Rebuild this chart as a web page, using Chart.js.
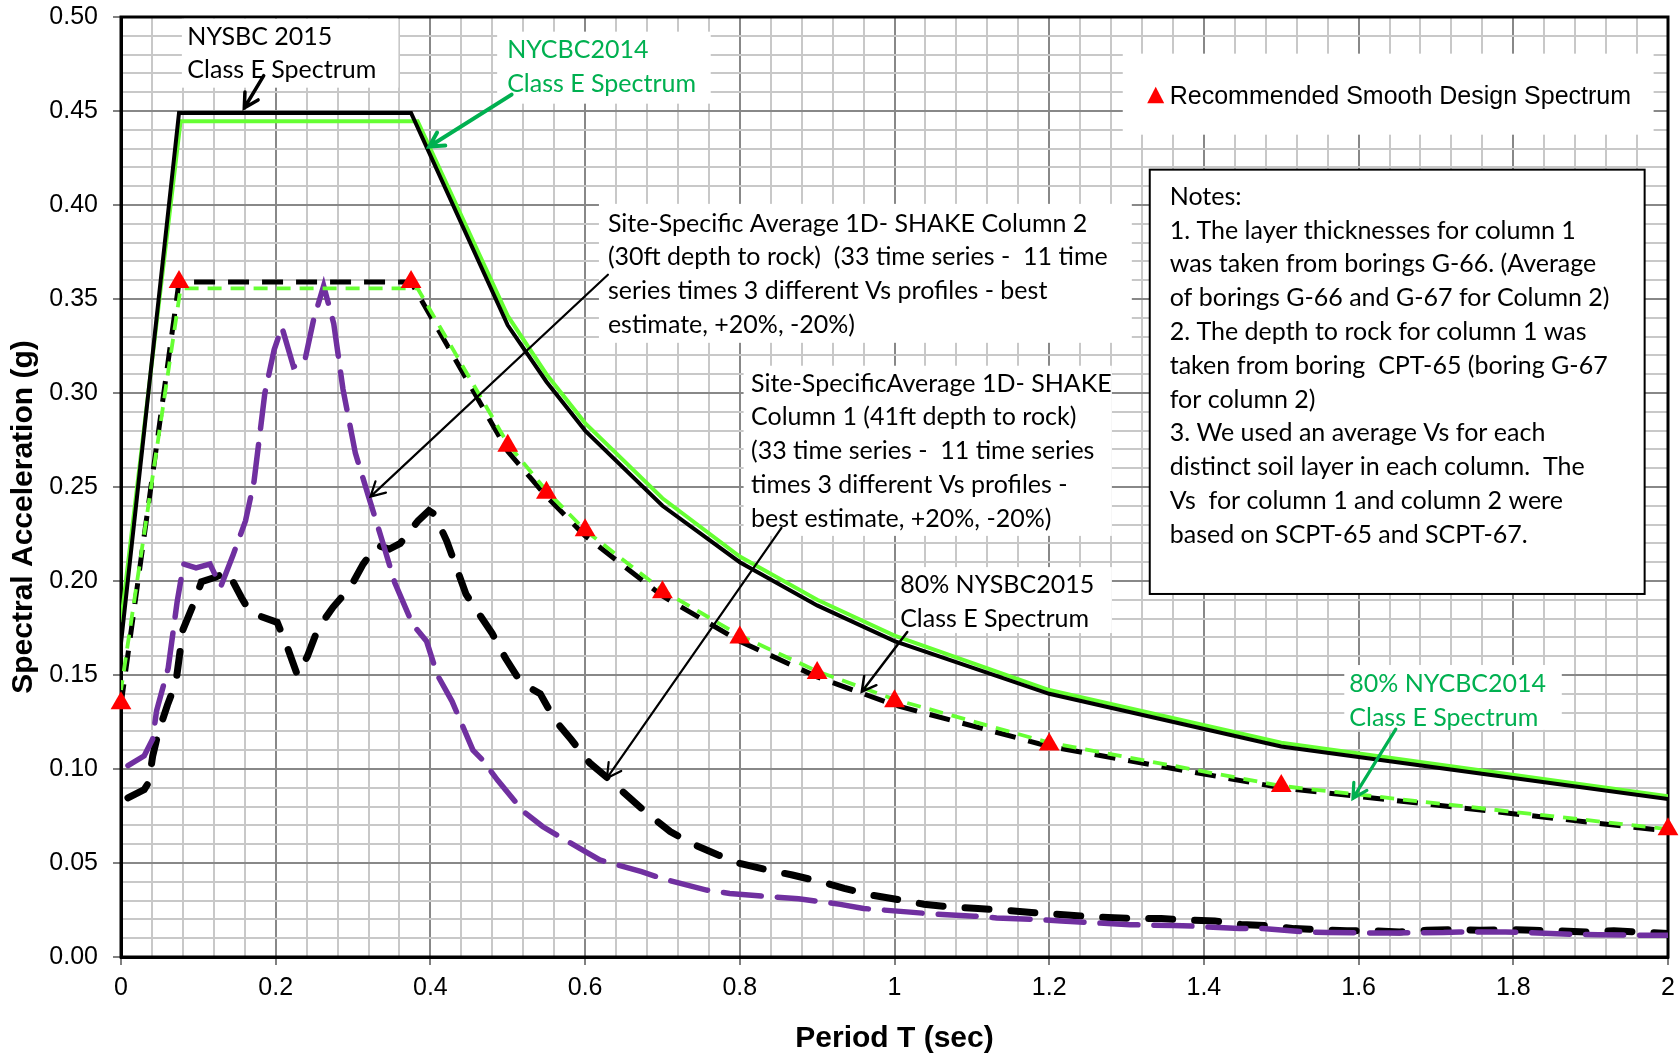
<!DOCTYPE html>
<html>
<head>
<meta charset="utf-8">
<title>Spectral Acceleration</title>
<script src="https://cdn.jsdelivr.net/npm/chart.js@4.4.1/dist/chart.umd.min.js"></script>
<style>
  html, body { margin: 0; padding: 0; background: #fff; }
  #wrap { width: 1680px; height: 1057px; position: relative; }
</style>
</head>
<body>
<div id="wrap"><canvas id="chart"></canvas></div>
<script>
// Code spectra, period T (sec) vs Sa (g).
const nysbcPeriods = [0, 0.075, 0.375, 0.5, 0.55, 0.6, 0.7, 0.8, 0.9, 1.0, 1.2, 1.5, 2.0];
const nysbc2015 = [0.167, 0.449, 0.449, 0.336, 0.306, 0.280, 0.240, 0.210, 0.187, 0.168, 0.140, 0.112, 0.084];
const nysbc2015x80 = [0.134, 0.359, 0.359, 0.269, 0.245, 0.224, 0.192, 0.168, 0.149, 0.134, 0.112, 0.090, 0.067];

const nycbcPeriods = [0, 0.077, 0.3835, 0.5, 0.55, 0.6, 0.7, 0.8, 0.9, 1.0, 1.2, 1.5, 2.0];
const nycbc2014 = [0.178, 0.4445, 0.4445, 0.341, 0.310, 0.284, 0.244, 0.213, 0.190, 0.171, 0.142, 0.114, 0.0855];
const nycbc2014x80 = [0.142, 0.3556, 0.3556, 0.273, 0.248, 0.227, 0.195, 0.171, 0.152, 0.137, 0.114, 0.091, 0.068];

// Recommended smooth design spectrum (triangles).
const designPeriods = [0, 0.075, 0.375, 0.5, 0.55, 0.6, 0.7, 0.8, 0.9, 1.0, 1.2, 1.5, 2.0];
const designSa = [0.135, 0.359, 0.359, 0.272, 0.247, 0.227, 0.194, 0.170, 0.151, 0.136, 0.113, 0.091, 0.068];

// Site-specific SHAKE averages.
const col1Periods = [0.009, 0.03, 0.036, 0.041, 0.048, 0.06, 0.071, 0.08, 0.094, 0.104, 0.122, 0.138, 0.156, 0.166, 0.175,
  0.202, 0.214, 0.228, 0.241, 0.255, 0.274, 0.297, 0.313, 0.331, 0.347, 0.361, 0.384, 0.398, 0.405, 0.421, 0.432,
  0.446, 0.462, 0.48, 0.497, 0.517, 0.542, 0.561, 0.582, 0.606, 0.629, 0.658, 0.68, 0.71, 0.737, 0.772, 0.8, 0.836,
  0.868, 0.905, 0.935, 0.969, 1.004, 1.038, 1.07, 1.108, 1.14, 1.177, 1.209, 1.243, 1.276, 1.31, 1.345, 1.38, 1.414,
  1.448, 1.48, 1.517, 1.55, 1.585, 1.62, 1.653, 1.688, 1.723, 1.757, 1.794, 1.826, 1.86, 1.895, 1.93, 1.962, 2.0];
const col1Sa = [0.0846, 0.089, 0.093, 0.107, 0.119, 0.134, 0.146, 0.174, 0.188, 0.1996, 0.202, 0.205, 0.191, 0.184, 0.182,
  0.178, 0.166, 0.150, 0.160, 0.175, 0.186, 0.197, 0.209, 0.219, 0.217, 0.220, 0.232, 0.2374, 0.2356, 0.2214, 0.209,
  0.193, 0.183, 0.172, 0.159, 0.146, 0.140, 0.126, 0.1157, 0.1032, 0.0952, 0.0845, 0.0765, 0.0667, 0.0605, 0.0543, 0.0498, 0.0463,
  0.0436, 0.040, 0.0365, 0.033, 0.0306, 0.0281, 0.0267, 0.0258, 0.0249, 0.0237, 0.0228, 0.0217, 0.021, 0.0205, 0.0205, 0.0196, 0.0192,
  0.0173, 0.0167, 0.0151, 0.0146, 0.0139, 0.0139, 0.0133, 0.0142, 0.0146, 0.0142, 0.0146, 0.0142, 0.0139, 0.0133, 0.0139, 0.0133, 0.0125];

const col2Periods = [0.009, 0.03, 0.041, 0.046, 0.061, 0.0726, 0.081, 0.097, 0.115, 0.129, 0.145, 0.161, 0.172, 0.186, 0.198,
  0.208, 0.223, 0.237, 0.249, 0.262, 0.275, 0.287, 0.303, 0.32, 0.338, 0.354, 0.377, 0.395, 0.409, 0.428, 0.455,
  0.467, 0.487, 0.52, 0.545, 0.592, 0.619, 0.673, 0.703, 0.757, 0.787, 0.843, 0.876, 0.93, 0.96, 1.016, 1.043, 1.103,
  1.132, 1.187, 1.216, 1.276, 1.305, 1.36, 1.388, 1.446, 1.476, 1.53, 1.56, 1.62, 1.65, 1.71, 1.73, 1.79, 1.82, 1.88,
  1.91, 1.965, 2.0];
const col2Sa = [0.1018, 0.107, 0.116, 0.131, 0.1536, 0.189, 0.209, 0.207, 0.209, 0.197, 0.214, 0.232, 0.253, 0.300, 0.323,
  0.335, 0.314, 0.316, 0.339, 0.357, 0.337, 0.302, 0.268, 0.245, 0.221, 0.199, 0.177, 0.168, 0.150, 0.136, 0.110,
  0.105, 0.094, 0.0775, 0.0694, 0.058, 0.0516, 0.0454, 0.0413, 0.0356, 0.0338, 0.032, 0.031, 0.028, 0.0258, 0.024, 0.0231, 0.0217,
  0.0208, 0.0199, 0.0192, 0.0178, 0.0172, 0.0167, 0.0164, 0.0151, 0.0151, 0.0133, 0.013, 0.0128, 0.0128, 0.013, 0.0133, 0.0133, 0.013, 0.012,
  0.0119, 0.0116, 0.0116];

const xTicksMajor = 0.2, xTicksMinor = 0.04;
const yTicksMajor = 0.05, yTicksMinor = 0.01;

const pts = (xs, ys) => xs.map((x, i) => ({x, y: ys[i]}));
const isMajor = (v, step) => Math.abs(v / step - Math.round(v / step)) < 1e-6;

const calibri = 'Lato, "Open Sans", sans-serif';
const arial = '"Liberation Sans", Arial, sans-serif';
const GREEN_TEXT = '#00b050';
const LINE_STEP = 33.8;

// Callout boxes: [T left, Sa top, T right, Sa bottom], first text baseline at (T, Sa).
const callouts = [
  {box: [0.0787, 0.4991, 0.3586, 0.4624], at: [0.0858, 0.4853], color: '#000',
    lines: ['NYSBC 2015', 'Class E Spectrum']},
  {box: [0.4863, 0.4922, 0.7624, 0.4539], at: [0.4992, 0.4782], color: GREEN_TEXT,
    lines: ['NYCBC2014', 'Class E Spectrum']},
  {box: [0.6179, 0.4006, 1.3068, 0.3267], at: [0.6295, 0.3859], color: '#000',
    lines: ['Site-Specific Average 1D- SHAKE Column 2', '(30ft depth to rock)  (33 time series -  11 time',
      'series times 3 different Vs profiles - best', 'estimate, +20%, -20%)']},
  {box: [0.8049, 0.3145, 1.2810, 0.2240], at: [0.8145, 0.3007], color: '#000',
    lines: ['Site-SpecificAverage 1D- SHAKE', 'Column 1 (41ft depth to rock)', '(33 time series -  11 time series',
      'times 3 different Vs profiles -', 'best estimate, +20%, -20%)']},
  {box: [1.0023, 0.2074, 1.2810, 0.1723], at: [1.0073, 0.1935], color: '#000',
    lines: ['80% NYSBC2015', 'Class E Spectrum']},
  {box: [1.5815, 0.1553, 1.8627, 0.1208], at: [1.5880, 0.1411], color: GREEN_TEXT,
    lines: ['80% NYCBC2014', 'Class E Spectrum']},
  {box: [1.3300, 0.4188, 1.9698, 0.1931], at: [1.3558, 0.4001], color: '#000', border: true,
    lines: ['Notes:', '1. The layer thicknesses for column 1', 'was taken from borings G-66. (Average',
      'of borings G-66 and G-67 for Column 2)', '2. The depth to rock for column 1 was',
      'taken from boring  CPT-65 (boring G-67', 'for column 2)', '3. We used an average Vs for each',
      'distinct soil layer in each column.  The', 'Vs  for column 1 and column 2 were',
      'based on SCPT-65 and SCPT-67.']},
];

// Legend for the triangle markers.
const legendBox = {box: [1.2951, 0.4805, 1.9814, 0.4374], mark: [1.3377, 0.4581], at: [1.3558, 0.4539],
  text: 'Recommended Smooth Design Spectrum'};

// Arrows: from tail to tip, in (T, Sa).
const arrows = [
  {from: [0.1845, 0.4688], to: [0.1594, 0.4516], color: '#000', width: 3.5},
  {from: [0.5050, 0.4587], to: [0.3986, 0.4311], color: GREEN_TEXT, width: 4},
  {from: [0.6295, 0.3629], to: [0.3225, 0.2449], color: '#000', width: 2.2},
  {from: [0.8539, 0.2282], to: [0.6282, 0.0952], color: '#000', width: 2.2},
  {from: [1.0165, 0.1729], to: [0.9577, 0.1411], color: '#000', width: 2.5},
  {from: [1.6481, 0.1212], to: [1.5927, 0.0844], color: GREEN_TEXT, width: 3.2},
];

const calloutPlugin = {
  id: 'callouts',
  beforeDatasetsDraw(chart) {
    const {ctx, chartArea: a, scales: {x, y}} = chart;
    ctx.save();
    // plot frame
    ctx.strokeStyle = '#000';
    ctx.lineWidth = 3;
    ctx.strokeRect(a.left, a.top, a.right - a.left, a.bottom - a.top);

    const drawBox = (b, border) => {
      const x0 = x.getPixelForValue(b[0]), y0 = y.getPixelForValue(b[1]);
      const x1 = x.getPixelForValue(b[2]), y1 = y.getPixelForValue(b[3]);
      ctx.fillStyle = '#fff';
      ctx.fillRect(x0, y0, x1 - x0, y1 - y0);
      if (border) {
        ctx.strokeStyle = '#000';
        ctx.lineWidth = 2;
        ctx.strokeRect(x0, y0, x1 - x0, y1 - y0);
      }
    };

    ctx.textBaseline = 'alphabetic';
    ctx.textAlign = 'left';
    callouts.forEach(c => {
      drawBox(c.box, c.border);
      ctx.fillStyle = c.color;
      ctx.font = '25px ' + calibri;
      const tx = x.getPixelForValue(c.at[0]);
      const ty = y.getPixelForValue(c.at[1]);
      c.lines.forEach((line, i) => ctx.fillText(line, tx, ty + i * LINE_STEP));
    });

    drawBox(legendBox.box, false);
    const mx = x.getPixelForValue(legendBox.mark[0]), my = y.getPixelForValue(legendBox.mark[1]);
    ctx.fillStyle = '#ff0000';
    ctx.beginPath();
    ctx.moveTo(mx, my - 9);
    ctx.lineTo(mx + 8.5, my + 7.5);
    ctx.lineTo(mx - 8.5, my + 7.5);
    ctx.closePath();
    ctx.fill();
    ctx.fillStyle = '#000';
    ctx.font = '25px ' + arial;
    ctx.fillText(legendBox.text, x.getPixelForValue(legendBox.at[0]), y.getPixelForValue(legendBox.at[1]));
    ctx.restore();
  },
  afterDatasetsDraw(chart) {
    const {ctx, scales: {x, y}} = chart;
    ctx.save();
    ctx.lineCap = 'round';
    arrows.forEach(ar => {
      const x0 = x.getPixelForValue(ar.from[0]), y0 = y.getPixelForValue(ar.from[1]);
      const x1 = x.getPixelForValue(ar.to[0]), y1 = y.getPixelForValue(ar.to[1]);
      const ang = Math.atan2(y1 - y0, x1 - x0);
      const head = 16, spread = 0.5;
      ctx.strokeStyle = ar.color;
      ctx.lineWidth = ar.width;
      ctx.beginPath();
      ctx.moveTo(x0, y0);
      ctx.lineTo(x1, y1);
      ctx.moveTo(x1 - head * Math.cos(ang - spread), y1 - head * Math.sin(ang - spread));
      ctx.lineTo(x1, y1);
      ctx.lineTo(x1 - head * Math.cos(ang + spread), y1 - head * Math.sin(ang + spread));
      ctx.stroke();
    });
    ctx.restore();
  },
  afterDraw(chart) {
    // rotated y-axis title, sits a little below the middle of the axis
    const {ctx, chartArea: a} = chart;
    ctx.save();
    ctx.translate(a.left - 97, (a.top + a.bottom) / 2 + 30);
    ctx.rotate(-Math.PI / 2);
    ctx.font = 'bold 30px ' + arial;
    ctx.fillStyle = '#000';
    ctx.textAlign = 'center';
    ctx.textBaseline = 'middle';
    ctx.fillText('Spectral Acceleration (g)', 0, 0);
    ctx.restore();
  }
};

Chart.defaults.font.family = arial;
Chart.defaults.color = '#000';

const line = (label, data, color, width, extra = {}) => Object.assign({
  label, data, borderColor: color, backgroundColor: color, borderWidth: width,
  pointRadius: 0, fill: false, tension: 0, showLine: true,
}, extra);

new Chart(document.getElementById('chart'), {
  type: 'line',
  data: {
    datasets: [
      {
        label: 'Recommended Smooth Design Spectrum',
        data: pts(designPeriods, designSa),
        showLine: false, pointStyle: 'triangle', pointRadius: 12,
        backgroundColor: '#ff0000', borderColor: '#ff0000', borderWidth: 0, clip: false,
      },
      line('NYSBC 2015 Class E Spectrum', pts(nysbcPeriods, nysbc2015), '#000', 4),
      line('NYCBC2014 Class E Spectrum', pts(nycbcPeriods, nycbc2014), '#66ff33', 4),
      line('80% NYCBC2014 Class E Spectrum', pts(nycbcPeriods, nycbc2014x80), '#66ff33', 3.8, {borderDash: [14, 9], borderDashOffset: 4}),
      line('80% NYSBC2015 Class E Spectrum', pts(nysbcPeriods, nysbc2015x80), '#000', 5, {borderDash: [21, 13]}),
      line('Site-Specific Average 1D- SHAKE Column 2', pts(col2Periods, col2Sa), '#7030a0', 5.5, {borderDash: [38, 16], borderCapStyle: 'round'}),
      line('Site-Specific Average 1D- SHAKE Column 1', pts(col1Periods, col1Sa), '#000', 7, {borderDash: [24, 22], borderCapStyle: 'round'}),
    ],
  },
  options: {
    responsive: true,
    maintainAspectRatio: false,
    animation: false,
    layout: {padding: {left: 0, right: 6, top: 17, bottom: 0}},
    plugins: {
      legend: {display: false},
      tooltip: {enabled: false},
    },
    scales: {
      x: {
        type: 'linear', min: 0, max: 2,
        afterFit: s => { s.height = 100; s.paddingLeft = 0; s.paddingRight = 0; },
        ticks: {
          stepSize: xTicksMinor, autoSkip: false, maxRotation: 0, padding: 8,
          font: {size: 25}, color: '#000',
          callback: v => isMajor(v, xTicksMajor) ? String(+v.toFixed(1)) : '',
        },
        grid: {
          lineWidth: 2, tickLength: 8,
          color: c => (c.tick && isMajor(c.tick.value, xTicksMajor)) ? '#888888' : '#c8c8c8',
          tickColor: c => (c.tick && isMajor(c.tick.value, xTicksMajor)) ? '#808080' : 'rgba(0,0,0,0)',
        },
        border: {color: '#000', width: 3},
        title: {
          display: true, text: 'Period T (sec)', color: '#000',
          font: {size: 30, weight: 'bold'}, padding: {top: 0, bottom: 0},
        },
      },
      y: {
        type: 'linear', min: 0, max: 0.5,
        afterFit: s => { s.width = 121; s.paddingTop = 0; s.paddingBottom = 0; },
        ticks: {
          stepSize: yTicksMinor, autoSkip: false, padding: 15,
          font: {size: 25}, color: '#000',
          callback: v => isMajor(v, yTicksMajor) ? v.toFixed(2) : '',
        },
        grid: {
          lineWidth: 2, tickLength: 8,
          color: c => (c.tick && isMajor(c.tick.value, yTicksMajor)) ? '#888888' : '#c8c8c8',
          tickColor: c => (c.tick && isMajor(c.tick.value, yTicksMajor)) ? '#808080' : 'rgba(0,0,0,0)',
        },
        border: {color: '#000', width: 3},
      },
    },
  },
  plugins: [calloutPlugin],
});
</script>
</body>
</html>
